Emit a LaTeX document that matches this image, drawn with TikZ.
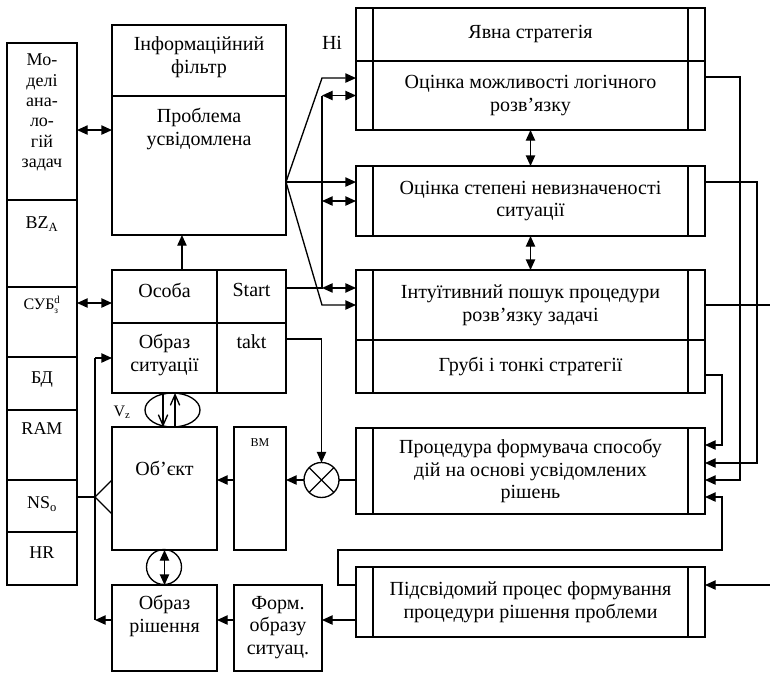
\documentclass[tikz,border=0pt]{standalone}
\usepackage{fontspec}
\setmainfont{Liberation Serif}
\usetikzlibrary{arrows.meta,shapes.geometric}

\tikzset{
  arr/.style={-{Triangle[length=8pt,width=7pt]}},
  dbl/.style={{Triangle[length=8pt,width=7pt]}-{Triangle[length=8pt,width=7pt]}},
  vee/.style={-{Straight Barb[length=8pt,width=7pt]}},
  box/.style={draw, rectangle},
  cell/.style={draw, rectangle, minimum width=52.5pt},
  txt/.style={align=center},
  small/.style={font=\fontsize{13.5}{15.2}\selectfont},
  sidebox/.style={draw, rectangle, align=center, minimum width=261.75pt,
    path picture={
      \draw ([xshift=12.75pt]path picture bounding box.north west) -- ([xshift=12.75pt]path picture bounding box.south west);
      \draw ([xshift=-12.75pt]path picture bounding box.north east) -- ([xshift=-12.75pt]path picture bounding box.south east);
    }},
}

\begin{document}
\begin{tikzpicture}[x=0.75pt, y=-0.75pt, line width=1pt,
  font=\fontsize{15}{17}\selectfont,
  every node/.style={inner sep=0pt, outer sep=0pt}]
\useasboundingbox (0,0) rectangle (770,672);

\node[cell, minimum height=117.75pt] (mdl) at (42,121.5) {};
\node[cell, minimum height=65.25pt] (bza) at (42,243.5) {};
\node[cell, minimum height=52.5pt] (sub) at (42,322) {};
\node[cell, minimum height=39.75pt] (bd) at (42,383.5) {};
\node[cell, minimum height=52.5pt] (ram) at (42,445) {};
\node[cell, minimum height=39pt] (nso) at (42,506) {};
\node[cell, minimum height=39.75pt] (hr) at (42,558.5) {};
\node[txt, small] (tmdl) at (42,112.5) {Мо-\\делі\\ана-\\ло-\\гій\\задач};
\node[small] (tbza) at (42,224) {BZ\textsubscript{A}};
\node[font=\fontsize{12}{14}\selectfont] (tsub) at (42,305) {СУБ$^{\mathrm{d}}_{\mbox{\scriptsize з}}$};
\node[small] (tbd) at (42,380) {БД};
\node[small] (tram) at (42,429) {RAM};
\node[small] (tnso) at (42,504) {NS\textsubscript{o}};
\node[small] (thr) at (42,553) {HR};

\node[box, minimum width=130.5pt, minimum height=53.25pt] (filt) at (199,60.5) {};
\node[txt] (tfilt) at (199,57) {Інформаційний\\фільтр};
\node[box, minimum width=130.5pt, minimum height=104.25pt] (prob) at (199,165.5) {};
\node[txt] (tprob) at (199,129) {Проблема\\усвідомлена};
\node[box, minimum width=78.75pt, minimum height=39.75pt] (osoba) at (164.5,296.5) {};
\node (tosoba) at (164.5,290) {Особа};
\node[box, minimum width=51.75pt, minimum height=39.75pt] (start) at (251.5,296.5) {};
\node (tstart) at (251.5,290) {Start};
\node[box, minimum width=78.75pt, minimum height=52.5pt] (obs) at (164.5,358) {};
\node[txt] (tobs) at (164.5,355) {Образ\\ситуації};
\node[box, minimum width=51.75pt, minimum height=52.5pt] (takt) at (251.5,358) {};
\node (ttakt) at (251.5,342) {takt};
\node[ellipse, draw, minimum width=41.25pt, minimum height=25.5pt] (vz) at (172.5,410) {};
\node[font=\fontsize{12}{14}\selectfont] (tvz) at (122,412) {V\textsubscript{z}};
\node[box, minimum width=78.75pt, minimum height=92.25pt] (obj) at (164.5,488.5) {};
\node (tobj) at (164.5,468) {Об’єкт};
\node[box, minimum width=39pt, minimum height=92.25pt] (vm) at (260,488.5) {};
\node[font=\fontsize{9}{11}\selectfont] (tvm) at (260,443) {ВМ};
\node[circle, draw, minimum size=26.25pt] (obc) at (164,567) {};
\node[circle, draw, minimum size=26.25pt, path picture={
    \draw (path picture bounding box.north west) -- (path picture bounding box.south east);
    \draw (path picture bounding box.north east) -- (path picture bounding box.south west);
  }] (mix) at (321.5,480) {};
\node[box, minimum width=78.75pt, minimum height=64.5pt] (obr) at (164.5,628) {};
\node[txt] (tobr) at (164.5,616) {Образ\\рішення};
\node[box, minimum width=66pt, minimum height=64.5pt] (form) at (278,628) {};
\node[txt] (tform) at (278,627.5) {Форм.\\образу\\ситуац.};

\node[sidebox, minimum height=39.75pt] (yav) at (530.5,34.5) {Явна стратегія};
\node[sidebox, minimum height=51.75pt] (ocl) at (530.5,95.5) {Оцінка можливості логічного\\розв’язку};
\node[sidebox, minimum height=52.5pt] (ocs) at (530.5,201) {Оцінка степені невизначеності\\ситуації};
\node[sidebox, minimum height=52.5pt] (intu) at (530.5,305) {Інтуїтивний пошук процедури\\розв’язку задачі};
\node[sidebox, minimum height=39.75pt] (grub) at (530.5,366.5) {Грубі і тонкі стратегії};
\node[sidebox, minimum height=64.5pt] (spos) at (530.5,471) {Процедура формувача способу\\дій на основі усвідомлених\\рішень};
\node[sidebox, minimum height=52.5pt] (pids) at (530.5,602) {Підсвідомий процес формування\\процедури рішення проблеми};
\node (tni) at (332,43) {Ні};

\coordinate (mp) at ([yshift=-6.4pt]mdl.east);
\coordinate (so) at ([yshift=14.25pt]sub.east);
\coordinate (oz) at ([xshift=13.1pt]osoba.north);
\coordinate (fan) at ([yshift=-12.4pt]prob.east);
\coordinate (bus) at ([xshift=-25.5pt]ocl.west);
\coordinate (up) at ([yshift=13.1pt]ocl.west);
\coordinate (sb) at ([yshift=6.4pt]start.east);
\coordinate (tk) at ([yshift=14.25pt]takt.east);
\coordinate (fk) at ([xshift=13.5pt,yshift=6.75pt]nso.east);
\coordinate (lo) at ([yshift=-13.5pt]pids.west);
\coordinate (outR) at ([xshift=48.75pt]intu.east);
\coordinate (inR) at ([xshift=48.75pt,yshift=12.75pt]pids.east);

\draw[dbl] (mp) -- (mp -| prob.west);
\draw[dbl] (so) -- (so -| osoba.west);
\draw[arr] (oz) -- (oz |- prob.south);

\draw[arr] (fan) -- (bus |- up) -- (up);
\draw[arr] (fan) -- (fan -| ocs.west);
\draw[arr] (fan) -- (bus |- intu.west) -- (intu.west);
\draw (sb) -- (sb -| bus) -- (bus);
\draw[dbl] (bus) -- (ocl.west);
\draw[dbl] (bus |- ocs.west) -- (ocs.west);
\draw[dbl] (sb -| bus) -- (sb -| intu.west);
\draw[dbl] (ocl.south) -- (ocs.north);
\draw[dbl] (ocs.south) -- (intu.north);

\draw[arr] (tk) -| (mix.north);
\draw[arr] (mix.west) -- (mix.west -| vm.east);
\draw (mix.east) -- (mix.east -| spos.west);
\draw[arr] (vm.west |- mix) -- (obj.east |- mix);
\draw[vee] ([xshift=-1.1pt]obs.south) -- ([xshift=-1.1pt]obj.north);
\draw[vee] ([xshift=7.9pt]obj.north) -- ([xshift=7.9pt]obs.south);
\draw[dbl] (obj.south) -- (obr.north);

\draw ([yshift=6.75pt]nso.east) -- (fk);
\draw (fk) -- ([yshift=6.4pt]obj.west);
\draw (fk) -- ([yshift=-19.1pt]obj.west);
\draw (fk |- obs.west) -- (fk |- lo);
\draw[arr] (fk |- obs.west) -- (obs.west);
\draw[arr] (lo) -- (lo -| form.east);
\draw[arr] (lo -| form.west) -- (lo -| obr.east);
\draw[arr] (lo -| obr.west) -- (lo -| fk);

\draw[arr] ([yshift=-6.4pt]grub.east) -| ([xshift=12.75pt,yshift=19.5pt]spos.east) -- ([yshift=19.5pt]spos.east);
\draw[arr] ([yshift=14.25pt]ocs.east) -| ([xshift=39pt,yshift=6pt]spos.east) -- ([yshift=6pt]spos.east);
\draw[arr] ([yshift=13.9pt]ocl.east) -| ([xshift=26.25pt,yshift=-6.75pt]spos.east) -- ([yshift=-6.75pt]spos.east);
\draw[arr] ([yshift=12.75pt]pids.west) -- ++(-13.5pt,0) -- ++(0,26.25pt) -| ([xshift=12.75pt,yshift=-19.5pt]spos.east) -- ([yshift=-19.5pt]spos.east);
\draw (intu.east) -- (outR);
\draw[arr] (inR) -- (inR -| pids.east);
\end{tikzpicture}
\end{document}
